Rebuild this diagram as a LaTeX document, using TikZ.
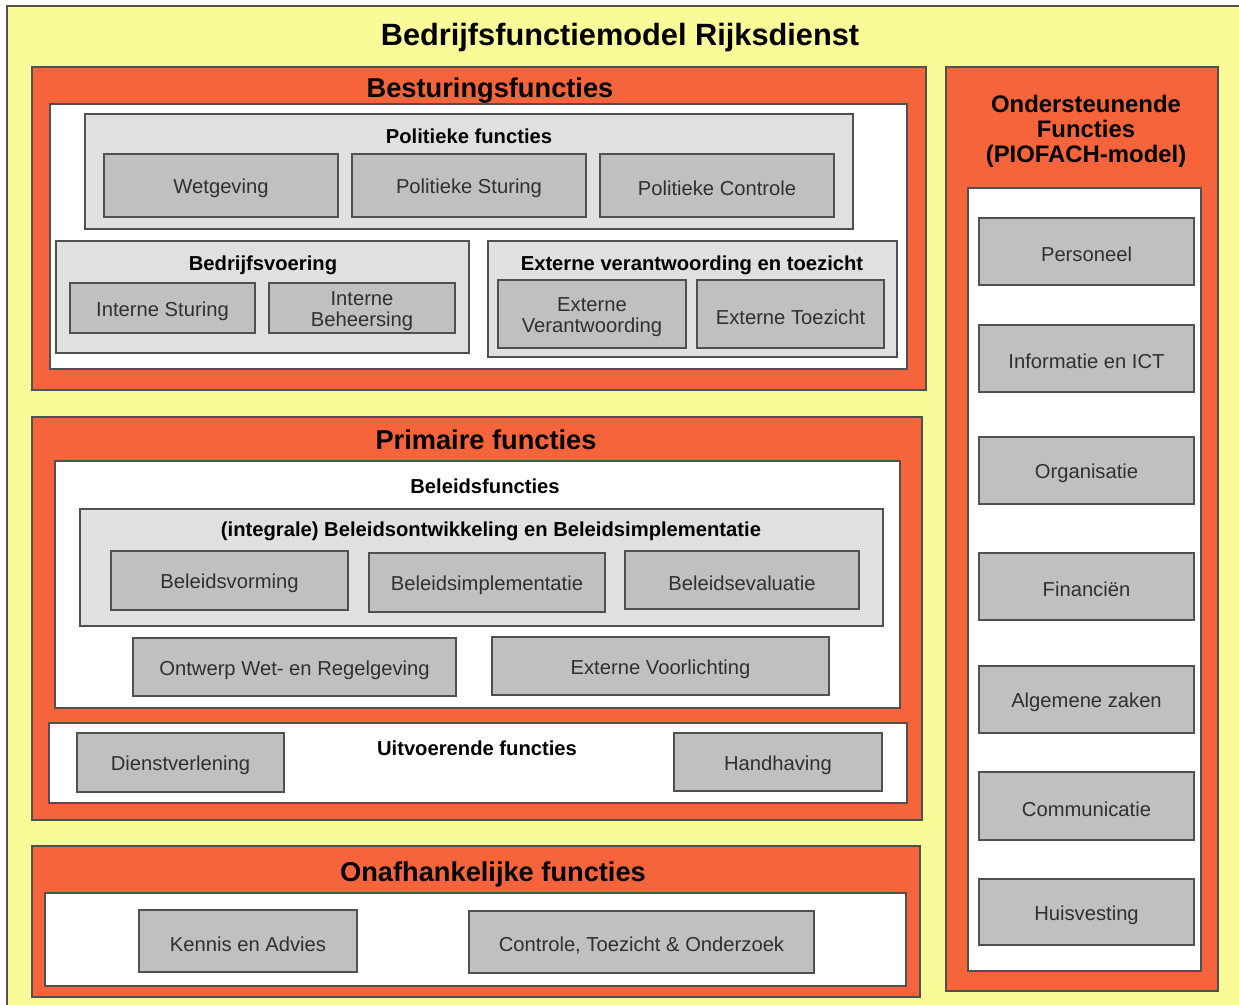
\documentclass[tikz,border=0pt]{standalone}
\usepackage{fontspec}
\setmainfont{Liberation Sans}
\usetikzlibrary{fit}
\definecolor{bgyellow}{HTML}{FAFA98}
\definecolor{rijksorange}{HTML}{F5643A}
\definecolor{groupgrey}{HTML}{E0E0E0}
\definecolor{boxgrey}{HTML}{C0C0C0}
\definecolor{edgegrey}{HTML}{505050}
\definecolor{textgrey}{HTML}{303030}
\tikzset{
  frame/.style={draw=edgegrey, line width=0.8pt, inner sep=0pt},
  orangebox/.style={frame, fill=rijksorange},
  whitebox/.style={frame, fill=white},
  groupbox/.style={frame, fill=groupgrey},
  functext/.style={text=textgrey, align=center, inner sep=0pt, yshift=-0.06cm,
    font=\fontsize{11.5}{12.3}\selectfont},
  funcbox/.style={frame, fill=boxgrey, label={[functext]center:#1}},
  maintitle/.style={font=\fontsize{15.5}{18}\selectfont\bfseries},
  grouptitle/.style={font=\fontsize{11.5}{13}\selectfont\bfseries}
}
\begin{document}
\begin{tikzpicture}[x=0.02cm, y=-0.02cm]
  \clip (0,0) rectangle (1239,1004);
  \draw[draw=edgegrey, line width=0.8pt, fill=bgyellow] (7,6) rectangle (1260,1030);
  \node[font=\fontsize{17.5}{20}\selectfont\bfseries] (title) at (620,38) {Bedrijfsfunctiemodel Rijksdienst};

  % besturing
  \node[orangebox, fit={(32,67) (926,390)}] (bestuur) {};
  \node[maintitle] (bestuurlabel) at (490,91) {Besturingsfuncties};
  \node[whitebox, fit={(50,104) (907,369)}] (bestuurwit) {};
  \node[groupbox, fit={(85,114) (853,229)}] (politiek) {};
  \node[grouptitle] (politieklabel) at (469,136) {Politieke functies};
  \node[funcbox=Wetgeving, fit={(104,154) (338,217)}] (wetgeving) {};
  \node[funcbox=Politieke Sturing, fit={(352,154) (586,217)}] (polsturing) {};
  \node[funcbox=Politieke Controle, fit={(600,154) (834,217)}] (polcontrole) {};
  \node[groupbox, fit={(56,241) (469,353)}] (bedrijf) {};
  \node[grouptitle] (bedrijflabel) at (263,265) {Bedrijfsvoering};
  \node[funcbox=Interne Sturing, fit={(70,283) (255,333)}] (intsturing) {};
  \node[funcbox={Interne\\Beheersing}, fit={(269,283) (455,333)}] (intbeheer) {};
  \node[groupbox, fit={(488,241) (897,357)}] (extern) {};
  \node[grouptitle] (externlabel) at (692,265) {Externe verantwoording en toezicht};
  \node[funcbox={Externe\\Verantwoording}, fit={(498,280) (686,348)}] (extverant) {};
  \node[funcbox=Externe Toezicht, fit={(697,280) (884,348)}] (exttoezicht) {};

  % primair
  \node[orangebox, fit={(32,417) (922,820)}] (primair) {};
  \node[maintitle] (primairlabel) at (486,440) {Primaire functies};
  \node[whitebox, fit={(55,461) (900,708)}] (beleid) {};
  \node[grouptitle] (beleidlabel) at (485,486) {Beleidsfuncties};
  \node[groupbox, fit={(80,509) (883,626)}] (integraal) {};
  \node[grouptitle] (integraallabel) at (491,531) {(integrale) Beleidsontwikkeling en Beleidsimplementatie};
  \node[funcbox=Beleidsvorming, fit={(111,551) (348,610)}] (vorming) {};
  \node[funcbox=Beleidsimplementatie, fit={(369,553) (605,612)}] (implement) {};
  \node[funcbox=Beleidsevaluatie, fit={(625,551) (859,609)}] (evaluatie) {};
  \node[funcbox=Ontwerp Wet- en Regelgeving, fit={(133,638) (456,696)}] (ontwerp) {};
  \node[funcbox=Externe Voorlichting, fit={(492,637) (829,695)}] (voorlichting) {};
  \node[whitebox, fit={(49,723) (907,803)}] (uitvoer) {};
  \node[grouptitle] (uitvoerlabel) at (477,748) {Uitvoerende functies};
  \node[funcbox=Dienstverlening, fit={(77,733) (284,792)}] (dienst) {};
  \node[funcbox=Handhaving, fit={(674,733) (882,791)}] (handhaving) {};

  % onafhankelijk
  \node[orangebox, fit={(32,846) (920,997)}] (onafh) {};
  \node[maintitle] (onafhlabel) at (493,874) {Onafhankelijke functies};
  \node[whitebox, fit={(45,893) (906,986)}] (onafhwit) {};
  \node[funcbox=Kennis en Advies, fit={(139,910) (357,972)}] (kennis) {};
  \node[funcbox={Controle, Toezicht \& Onderzoek}, fit={(469,911) (814,973)}] (controle) {};

  % ondersteunend
  \node[orangebox, fit={(946,67) (1218,991)}] (onderst) {};
  \node[align=center, font=\fontsize{13.6}{14.2}\selectfont\bfseries] (onderstlabel) at (1086,131)
    {Ondersteunende\\Functies\\(PIOFACH-model)};
  \node[whitebox, fit={(968,188) (1201,971)}] (onderstwit) {};
  \node[funcbox=Personeel, fit={(979,218) (1194,285)}] (personeel) {};
  \node[funcbox=Informatie en ICT, fit={(979,325) (1194,392)}] (ict) {};
  \node[funcbox=Organisatie, fit={(979,437) (1194,504)}] (organisatie) {};
  \node[funcbox=Financiën, fit={(979,553) (1194,620)}] (financien) {};
  \node[funcbox=Algemene zaken, fit={(979,666) (1194,733)}] (algemeen) {};
  \node[funcbox=Communicatie, fit={(979,772) (1194,840)}] (communicatie) {};
  \node[funcbox=Huisvesting, fit={(979,879) (1194,945)}] (huisvesting) {};
\end{tikzpicture}
\end{document}
